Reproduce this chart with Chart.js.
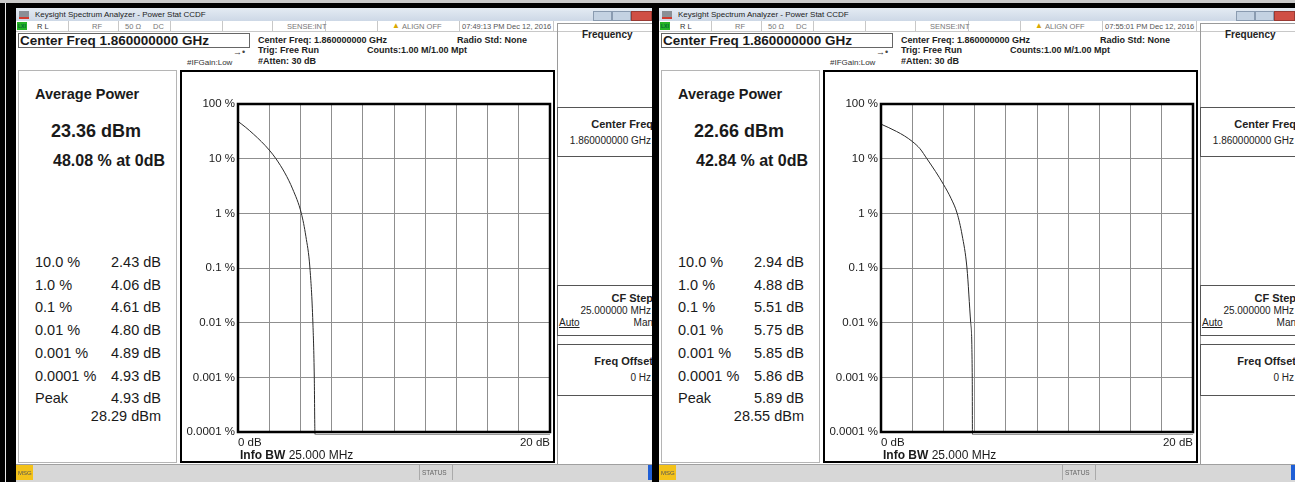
<!DOCTYPE html>
<html>
<head>
<meta charset="utf-8">
<script src="https://cdn.jsdelivr.net/npm/chart.js@4/dist/chart.umd.min.js"></script>
<style>
  body { margin: 0; width: 1295px; height: 482px; background: #000; overflow: hidden; position: relative;
         font-family: Arial, "Liberation Sans", sans-serif; color: #1a1a1a; }
  .topgray { position: absolute; left: 0; top: 0; width: 1295px; height: 3px; background: #c9c9c9; }
  .edge { position: absolute; left: 5px; top: 3px; width: 1px; height: 479px; background: #e8e8e8; }
  .screen { position: absolute; top: 0; width: 636px; height: 482px; overflow: hidden; }
  .screen > div { position: absolute; }
  .t { transform: translateY(-50%); white-space: nowrap; line-height: 1; }
  .title { left: 0; top: 8px; width: 636px; height: 13px; background: linear-gradient(#e4ebf3, #cdd8e6); }
  .white { left: 0; top: 21px; width: 636px; height: 461px; background: #fff; }
  .cell { top: 21px; height: 10px; border-right: 1px solid #c8c8c8; }
  .small { font-size: 7.5px; color: #777; }
  .hdr { font-size: 9px; font-weight: bold; color: #222; }
  .box { border: 1px solid #555; box-sizing: border-box; }
  .sk { font-size: 10px; color: #222; }
</style>
</head>
<body>
<div class="topgray"></div>
<div class="edge"></div>
<div class="screen" id="screen1" style="left:16px"></div>
<div class="screen" id="screen2" style="left:659px"></div>

<script>
// Eje Y (CCDF em %) e eixo X (dB acima da média)
const yTickValues = [100, 10, 1, 0.1, 0.01, 0.001, 0.0001]
const yTickLabels = ['100 %', '10 %', '1 %', '0.1 %', '0.01 %', '0.001 %', '0.0001 %']
const xFirstLabel = '0 dB'
const xLastLabel = '20 dB'

// Curvas (dB, %)
const db1 = [0, 0.5, 1, 1.5, 2, 2.43, 3, 3.5, 4.06, 4.35, 4.61, 4.8, 4.89, 4.93, 4.95, 20]
const ccdf1 = [48.08, 37.3, 28, 20.5, 14.4, 10, 5.5, 2.8, 1, 0.38, 0.1, 0.01, 0.001, 0.0001, 0.00009, 0.00009]
const db2 = [0, 0.5, 1, 1.5, 2, 2.5, 2.94, 3.5, 4, 4.5, 4.88, 5.2, 5.51, 5.75, 5.85, 5.86, 5.88, 20]
const ccdf2 = [42.84, 36.9, 31.4, 26.1, 20.7, 15.2, 10, 5.8, 3.4, 1.85, 1, 0.4, 0.1, 0.01, 0.001, 0.0001, 0.00009, 0.00009]

// Tabela de estatísticas
const statLabels = ['10.0 %', '1.0 %', '0.1 %', '0.01 %', '0.001 %', '0.0001 %', 'Peak']
const stats1 = ['2.43 dB', '4.06 dB', '4.61 dB', '4.80 dB', '4.89 dB', '4.93 dB', '4.93 dB']
const stats2 = ['2.94 dB', '4.88 dB', '5.51 dB', '5.75 dB', '5.85 dB', '5.86 dB', '5.89 dB']
const peakDbm = ['28.29 dBm', '28.55 dBm']
const avgPower = ['23.36 dBm', '22.66 dBm']
const atZero = ['48.08 % at 0dB', '42.84 % at 0dB']
const clock = ['07:49:13 PM Dec 12, 2016', '07:55:01 PM Dec 12, 2016']

function screenHtml(i, stats) {
  const rows = statLabels.map((label, k) => `
    <div class="t" style="left:19px;top:${262 + k * 22.7}px;font-size:14.5px">${label}</div>
    <div class="t" style="right:491px;top:${262 + k * 22.7}px;font-size:14.5px">${stats[k]}</div>`).join('')
  return `
    <div class="title"></div>
    <div style="left:3px;top:11px;width:10px;height:8px;background:#8a8f96;border-bottom:2px solid #d23b2f;box-sizing:border-box"></div>
    <div class="t" style="left:19px;top:14.5px;font-size:8px;color:#222">Keysight Spectrum Analyzer - Power Stat CCDF</div>
    <div style="left:577px;top:11px;width:17px;height:8px;background:#c4d2e2;border:1px solid #8a9bb0"></div>
    <div style="left:596px;top:11px;width:17px;height:8px;background:#c4d2e2;border:1px solid #8a9bb0"></div>
    <div style="left:615px;top:11px;width:19px;height:8px;background:#cf4f45;border:1px solid #9a3a33"></div>
    <div class="white"></div>
    <div style="left:0;top:31px;width:636px;height:1px;background:#c8c8c8"></div>
    <div style="left:1px;top:22px;width:10px;height:8px;background:#25b325"></div>
    <div class="t" style="left:2px;top:26px;font-size:5px;font-weight:bold;color:#063">LXI</div>
    <div class="cell" style="left:0;width:52px"></div>
    <div class="cell" style="left:53px;width:49px"></div>
    <div class="cell" style="left:103px;width:51px"></div>
    <div class="cell" style="left:155px;width:51px"></div>
    <div class="cell" style="left:207px;width:49px"></div>
    <div class="cell" style="left:257px;width:52px"></div>
    <div class="cell" style="left:310px;width:51px"></div>
    <div class="cell" style="left:362px;width:81px"></div>
    <div class="cell" style="left:444px;width:93px"></div>
    <div class="t small" style="left:21px;top:26.5px;color:#333">R L</div>
    <div class="t small" style="left:76px;top:26.5px">RF</div>
    <div class="t small" style="left:109px;top:26.5px">50 Ω</div>
    <div class="t small" style="left:137px;top:26.5px">DC</div>
    <div class="t small" style="left:271px;top:26.5px">SENSE:INT</div>
    <div class="t small" style="left:376px;top:26px;color:#d9a900;font-size:8px">▲</div>
    <div class="t small" style="left:386px;top:26.5px">ALIGN OFF</div>
    <div class="t small" style="left:446px;top:26.5px;color:#555">${clock[i]}</div>
    <div class="box" style="left:2px;top:33px;width:232px;height:15px;border-color:#666"></div>
    <div class="t" style="left:4px;top:40.5px;font-size:13.5px;font-weight:bold">Center Freq 1.860000000 GHz</div>
    <div class="t hdr" style="left:242px;top:40px">Center Freq: 1.860000000 GHz</div>
    <div class="t hdr" style="left:242px;top:50px">Trig: Free Run</div>
    <div class="t hdr" style="left:242px;top:61px">#Atten: 30 dB</div>
    <div class="t hdr" style="left:441px;top:40px">Radio Std: None</div>
    <div class="t hdr" style="left:351px;top:50px">Counts:1.00 M/1.00 Mpt</div>
    <div class="t" style="left:171px;top:63px;font-size:8px;color:#333">#IFGain:Low</div>
    <div class="t" style="left:217px;top:52px;font-size:9px;color:#444">→•</div>

    <div style="left:2px;top:70px;width:159px;height:393px;border:1px solid #b5b5b5;box-sizing:border-box"></div>
    <div class="t" style="left:19px;top:94px;font-size:14.5px;font-weight:bold">Average Power</div>
    <div class="t" style="left:35px;top:131px;font-size:18px;font-weight:bold">${avgPower[i]}</div>
    <div class="t" style="left:37px;top:161px;font-size:16px;font-weight:bold">${atZero[i]}</div>
    ${rows}
    <div class="t" style="right:491px;top:416px;font-size:14.5px">${peakDbm[i]}</div>

    <div style="left:164px;top:70px;width:375px;height:393px;border:2.5px solid #000;box-sizing:border-box"></div>
    <div style="left:168px;top:74px;width:370px;height:378px"><canvas id="chart${i}" width="370" height="378"></canvas></div>
    <div class="t" style="left:224px;top:455px;font-size:12px"><b>Info BW</b> 25.000 MHz</div>

    <div style="left:541px;top:23px;width:100px;height:442px;border:1px solid #9a9a9a;box-sizing:border-box"></div>
    <div class="t sk" style="left:566px;top:35px;font-weight:bold">Frequency</div>
    <div class="box" style="left:541px;top:107px;width:100px;height:50px"></div>
    <div class="t sk" style="right:-1px;top:124px;font-size:11px;font-weight:bold">Center Freq</div>
    <div class="t sk" style="right:1px;top:141px">1.860000000 GHz</div>
    <div class="box" style="left:541px;top:285px;width:100px;height:51px"></div>
    <div class="t sk" style="right:-1px;top:298px;font-size:11px;font-weight:bold">CF Step</div>
    <div class="t sk" style="right:1px;top:311px">25.000000 MHz</div>
    <div class="t sk" style="left:543px;top:323px;text-decoration:underline">Auto</div>
    <div class="t sk" style="right:-1px;top:323px">Man</div>
    <div class="box" style="left:541px;top:344px;width:100px;height:52px"></div>
    <div class="t sk" style="right:-1px;top:361px;font-size:11px;font-weight:bold">Freq Offset</div>
    <div class="t sk" style="right:1px;top:378px">0 Hz</div>

    <div style="left:0;top:464px;width:636px;height:18px;background:#d7d7d7;border-top:1px solid #a0a0a0;box-sizing:border-box"></div>
    <div style="left:0;top:465px;width:17px;height:15px;background:#f3c21a"></div>
    <div class="t" style="left:2px;top:472.5px;font-size:6px;color:#555">MSG</div>
    <div style="left:403px;top:465px;width:32px;height:15px;border-left:1px solid #aaa;border-right:1px solid #aaa"></div>
    <div class="t" style="left:406px;top:472.5px;font-size:6.5px;color:#666">STATUS</div>
    <div style="left:632px;top:465px;width:4px;height:15px;background:#1f5fd6"></div>`
}

// Moldura preta grossa em volta da área do gráfico
const plotFrame = {
  id: 'plotFrame',
  afterDatasetsDraw(chart) {
    const { ctx, chartArea: a } = chart
    ctx.save()
    ctx.strokeStyle = '#000'
    ctx.lineWidth = 2.5
    ctx.strokeRect(a.left, a.top, a.right - a.left, a.bottom - a.top)
    ctx.restore()
  }
}

function criarGrafico(canvasId, xs, ys) {
  const ctx = document.getElementById(canvasId).getContext('2d')
  return new Chart(ctx, {
    type: 'line',
    data: {
      datasets: [{
        data: xs.map((x, k) => ({ x, y: ys[k] })),
        borderColor: '#2a2a2a',
        borderWidth: 1,
        pointRadius: 0,
        cubicInterpolationMode: 'monotone',
        clip: 4,
        segment: {
          borderColor: c => (c.p0.parsed.y < 0.0001 ? '#9a9a9a' : '#2a2a2a')
        }
      }]
    },
    options: {
      responsive: false,
      animation: false,
      events: [],
      layout: { padding: { top: 30, right: 2, left: 0, bottom: 0 } },
      plugins: { legend: { display: false }, tooltip: { enabled: false } },
      scales: {
        x: {
          type: 'linear',
          min: 0,
          max: 20,
          border: { display: false },
          grid: { color: '#8f8f8f', lineWidth: 1, drawTicks: false },
          ticks: {
            stepSize: 2,
            autoSkip: false,
            maxRotation: 0,
            align: 'inner',
            padding: 4,
            color: '#1a1a1a',
            font: { size: 11.5 },
            callback: v => (v === 0 ? xFirstLabel : v === 20 ? xLastLabel : '')
          },
          afterFit: s => { s.height = 20 }
        },
        y: {
          type: 'logarithmic',
          min: 0.0001,
          max: 100,
          border: { display: false },
          grid: { color: '#8f8f8f', lineWidth: 1, drawTicks: false },
          afterBuildTicks: s => { s.ticks = yTickValues.map(value => ({ value })) },
          ticks: {
            padding: 3,
            color: '#1a1a1a',
            font: { size: 11.5 },
            callback: v => {
              const k = yTickValues.indexOf(v)
              return k >= 0 ? yTickLabels[k] : ''
            }
          },
          afterFit: s => { s.width = 54 }
        }
      }
    },
    plugins: [plotFrame]
  })
}

Chart.defaults.font.family = 'Arial, "Liberation Sans", sans-serif'

document.getElementById('screen1').innerHTML = screenHtml(0, stats1)
document.getElementById('screen2').innerHTML = screenHtml(1, stats2)
criarGrafico('chart0', db1, ccdf1)
criarGrafico('chart1', db2, ccdf2)
</script>
</body>
</html>
